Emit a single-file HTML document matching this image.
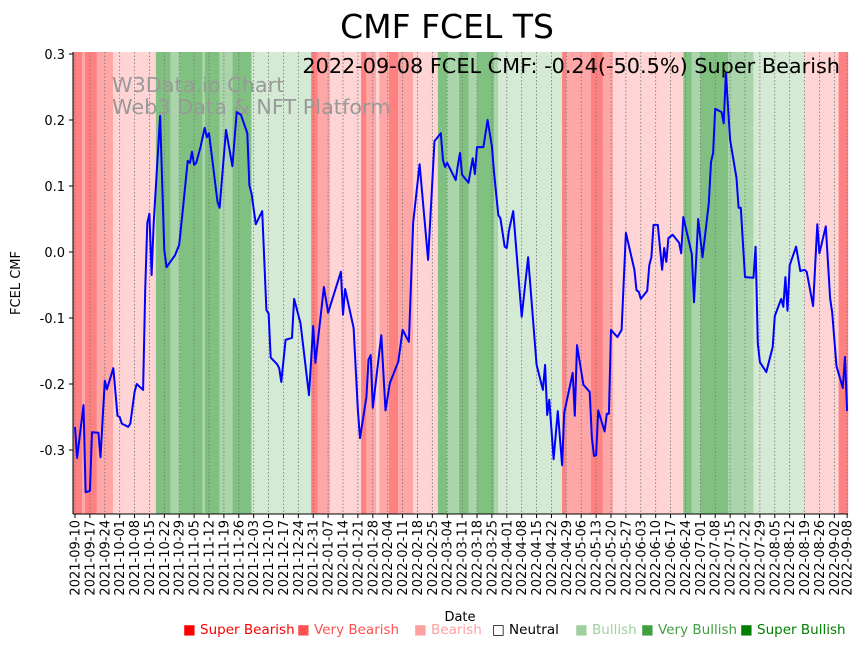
<!DOCTYPE html>
<html><head><meta charset="utf-8"><style>
body{margin:0;background:#fff;}
svg{display:block;font-family:"DejaVu Sans","Liberation Sans",sans-serif;}
</style></head><body>
<svg id="c" width="867" height="646" xmlns="http://www.w3.org/2000/svg">
<text x="447" y="38" font-size="33" text-anchor="middle">CMF FCEL TS</text>
<g id="bands"></g>
<g id="grid"></g>
<text x="112" y="92" font-size="20.8" fill="#999">W3Data.io Chart</text>
<text x="112" y="114" font-size="20.8" fill="#999">Web3 Data &amp; NFT Platform</text>
<g id="series"></g>
<text x="840" y="73" font-size="20.8" text-anchor="end">2022-09-08 FCEL CMF: -0.24(-50.5%) Super Bearish</text>
<g id="axes"></g>
<text x="460" y="621" font-size="13" text-anchor="middle">Date</text>
<text transform="translate(20,283) rotate(-90)" font-size="13" text-anchor="middle">FCEL CMF</text>
<g font-size="13.5">
<text x="183" y="634" fill="#ff0000">■ Super Bearish</text>
<text x="297" y="634" fill="#ff5050">■ Very Bearish</text>
<text x="414" y="634" fill="#ffa0a0">■ Bearish</text>
<text x="492" y="634" fill="#000">□ Neutral</text>
<text x="575" y="634" fill="#a0d0a0">■ Bullish</text>
<text x="641" y="634" fill="#40a040">■ Very Bullish</text>
<text x="740" y="634" fill="#008000">■ Super Bullish</text>
</g>
</svg>
<script>
const days=[0,1,4,5,7,8,11,12,14,15,18,20,21,22,25,26,28,29,32,33,34,35,36,37,40,42,43,47,49,51,53,54,55,56,57,59,61,62,63,67,68,71,74,76,78,81,82,83,85,88,90,91,92,95,96,97,99,102,103,106,110,112,113,117,119,125,126,127,131,133,134,137,138,139,140,144,146,148,152,154,157,159,162,166,169,172,173,174,175,179,180,181,182,185,187,188,189,192,194,196,197,199,200,202,203,204,206,210,213,217,220,221,222,223,225,227,229,230,234,235,236,239,242,243,244,245,246,249,250,251,252,255,257,258,259,263,264,265,266,269,270,271,272,274,276,277,278,279,281,284,285,286,290,291,293,295,298,299,300,301,304,305,306,308,311,312,313,315,319,320,321,322,325,328,329,332,333,334,335,336,339,341,343,344,347,349,350,353,355,356,358,361,362,363];
const values=[-0.265,-0.312,-0.232,-0.364,-0.362,-0.273,-0.274,-0.311,-0.195,-0.208,-0.176,-0.248,-0.25,-0.26,-0.265,-0.26,-0.212,-0.2,-0.209,-0.058,0.044,0.058,-0.035,0.044,0.206,0.003,-0.023,-0.005,0.011,0.074,0.138,0.135,0.152,0.132,0.135,0.159,0.188,0.174,0.18,0.076,0.067,0.185,0.13,0.212,0.208,0.18,0.101,0.089,0.042,0.062,-0.088,-0.093,-0.16,-0.17,-0.176,-0.197,-0.133,-0.13,-0.071,-0.108,-0.217,-0.112,-0.168,-0.053,-0.092,-0.03,-0.095,-0.056,-0.115,-0.24,-0.282,-0.22,-0.163,-0.156,-0.236,-0.126,-0.24,-0.199,-0.166,-0.118,-0.136,0.045,0.133,-0.012,0.168,0.18,0.139,0.129,0.135,0.109,0.132,0.15,0.117,0.105,0.142,0.118,0.159,0.159,0.2,0.16,0.121,0.056,0.051,0.008,0.006,0.032,0.062,-0.098,-0.008,-0.171,-0.209,-0.171,-0.247,-0.224,-0.314,-0.241,-0.323,-0.244,-0.183,-0.248,-0.141,-0.201,-0.212,-0.282,-0.309,-0.308,-0.24,-0.272,-0.245,-0.245,-0.118,-0.129,-0.118,-0.042,0.029,-0.027,-0.058,-0.06,-0.071,-0.059,-0.02,-0.008,0.041,0.041,-0.027,0.006,-0.015,0.021,0.026,0.014,-0.002,0.053,-0.003,-0.076,0.05,-0.008,0.074,0.136,0.15,0.217,0.212,0.195,0.271,0.17,0.112,0.067,0.067,-0.038,-0.039,0.008,-0.138,-0.167,-0.182,-0.144,-0.097,-0.071,-0.083,-0.038,-0.089,-0.02,0.008,-0.029,-0.027,-0.03,-0.082,0.042,-0.002,0.039,-0.07,-0.092,-0.173,-0.206,-0.159,-0.241];
const bandStarts=[-1,3.3,4.7,10.3,17.9,38,45,49,60,61,68,74,83,111,114,120,134.5,137,141.5,143,147.6,152,159,170.6,175,180.5,185,189,197,199,229,231,242.5,248,253,286,290,294,307,319,343,359];
const bandLevels=[-3,-2,-3,-2,-1,3,2,3,2,3,2,3,1,-3,-2,-1,-3,-2,-1,-2,-3,-2,-1,3,2,3,2,3,2,1,-3,-2,-3,-2,-1,3,2,3,2,1,-1,-3];
const bandEnd=363.5;
const yTicks=[0.3,0.2,0.1,0,-0.1,-0.2,-0.3];
const levelColors={"-3":"#ff8080","-2":"#ffa6a6","-1":"#ffd4d4","0":"#ffffff","1":"#d4ead4","2":"#aad5aa","3":"#80c080"};
const NS="http://www.w3.org/2000/svg";
const X=d=>75+d*2.127, Y=v=>252-v*660;
const PT=52,PB=514,PL=73,PR=848;
function mk(t,a,p){const e=document.createElementNS(NS,t);for(const k in a)e.setAttribute(k,a[k]);p.appendChild(e);return e;}
const bg=document.getElementById('bands');
for(let i=0;i<bandStarts.length;i++){
  const s=bandStarts[i],e=i+1<bandStarts.length?bandStarts[i+1]:bandEnd;
  const r=mk('rect',{x:X(s),y:PT,width:X(e)-X(s),height:PB-PT,fill:levelColors[bandLevels[i]]},bg);
  
  
}
const grid=document.getElementById('grid'),axes=document.getElementById('axes');
const start=new Date(Date.UTC(2021,8,10));
const tickDays=[];for(let d=0;d<=357;d+=7)tickDays.push(d);tickDays.push(363);
tickDays.forEach(d=>{
  const x=X(d);
  mk('line',{x1:x,x2:x,y1:PT,y2:PB,stroke:'#777','stroke-width':0.8,'stroke-dasharray':'1.5,2'},grid);
  mk('line',{x1:x,x2:x,y1:PB,y2:PB+4,stroke:'#000'},axes);
  const dt=new Date(start.getTime()+d*86400000);
  const t=mk('text',{transform:`translate(${x+4.5},${PB+6}) rotate(-90)`,'font-size':13,'text-anchor':'end'},axes);
  t.textContent=dt.toISOString().slice(0,10);
  
  
});
yTicks.forEach(v=>{
  const y=Y(v);
  mk('line',{x1:PL-4,x2:PL,y1:y,y2:y,stroke:'#000'},axes);
  const t=mk('text',{x:PL-8,y:y+5,'font-size':13,'text-anchor':'end'},axes);
  t.textContent=v===0?'0.0':v.toFixed(1);
  
  
});
mk('line',{x1:PL,x2:PL,y1:PT,y2:PB,stroke:'#000'},axes);
mk('line',{x1:PL,x2:PR,y1:PB,y2:PB,stroke:'#000'},axes);
const pts=days.map((d,i)=>X(d).toFixed(1)+','+Y(values[i]).toFixed(1)).join(' ');
const pl=mk('polyline',{points:pts,fill:'none',stroke:'#0000ff','stroke-width':2,'stroke-linejoin':'round'},document.getElementById('series'));


</script>
</body></html>
